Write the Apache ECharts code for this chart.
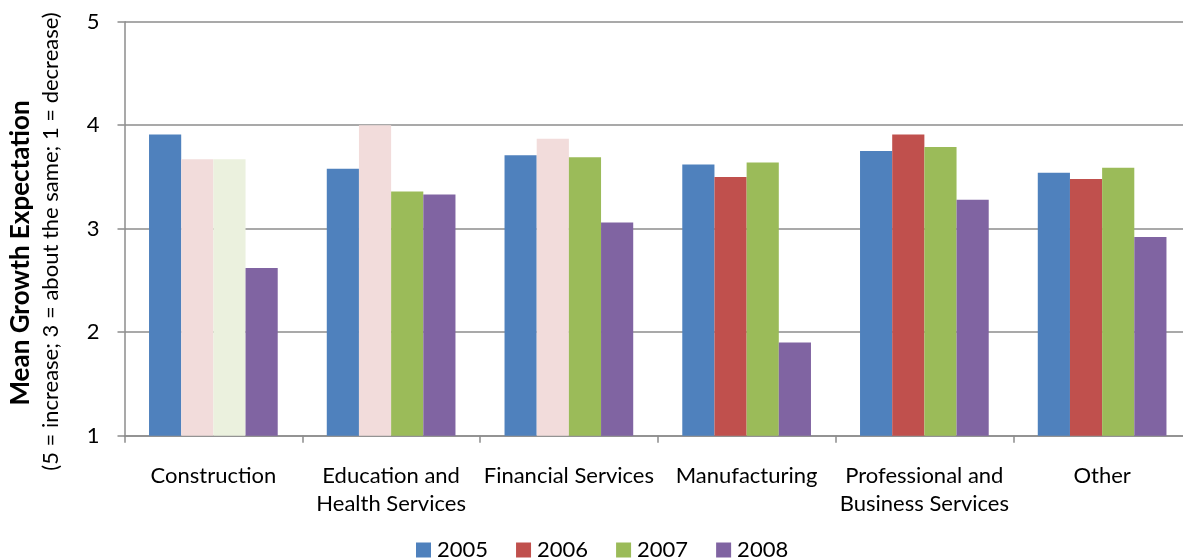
<!DOCTYPE html>
<html>
<head>
<meta charset="utf-8">
<script src="https://cdn.jsdelivr.net/npm/echarts@6/dist/echarts.min.js"></script>
<style>
  html, body { margin: 0; padding: 0; background: #fff; overflow: hidden; }
  /* the plot runs a few pixels past the right edge of the page */
  #chart { width: 1191px; height: 559px; }
</style>
</head>
<body>
<div id="chart"></div>
<script>
// Industry sectors on the category axis
const categories = [
  'Construction',
  'Education and\nHealth Services',
  'Financial Services',
  'Manufacturing',
  'Professional and\nBusiness Services',
  'Other'
];

// Survey years
const years = ['2005', '2006', '2007', '2008'];

// Mean growth expectation by sector, one array per year
const values2005 = [3.91, 3.58, 3.71, 3.62, 3.75, 3.54];
const values2006 = [3.67, 4.00, 3.87, 3.50, 3.91, 3.48];
const values2007 = [3.67, 3.36, 3.69, 3.64, 3.79, 3.59];
const values2008 = [2.62, 3.33, 3.06, 1.90, 3.28, 2.92];

// Value-axis ticks
const yTicks = [1, 2, 3, 4, 5];

// Bars shown in a pale tint: [category index, year index]
const paleBars = [[0, 1], [0, 2], [1, 1], [2, 1]];

const seriesValues = [values2005, values2006, values2007, values2008];
const colors = ['#4F81BD', '#C0504D', '#9BBB59', '#8064A2'];
const paleColors = ['#DCE6F2', '#F2DCDB', '#EBF1DE', '#E6E0EC'];

const FONT = 'Lato, "Open Sans", sans-serif';
const gridColor = '#8C8C8C';

const chart = echarts.init(document.getElementById('chart'), null, { renderer: 'canvas' });

const series = years.map((y, si) => ({
  name: y,
  type: 'bar',
  barGap: '0%',
  barCategoryGap: '27.6%',
  itemStyle: { color: colors[si] },
  data: seriesValues[si].map((v, ci) => {
    const pale = paleBars.some(p => p[0] === ci && p[1] === si);
    return pale ? { value: v, itemStyle: { color: paleColors[si] } } : v;
  })
}));

chart.setOption({
  backgroundColor: '#fff',
  animation: false,
  textStyle: { fontFamily: FONT },
  grid: { left: 124.5, top: 21.7, right: 0, height: 414, containLabel: false },
  xAxis: {
    type: 'category',
    data: categories,
    axisLine: { show: true, lineStyle: { color: gridColor, width: 1.5 } },
    axisTick: { show: true, length: 7, lineStyle: { color: gridColor, width: 1.5 } },
    axisLabel: {
      color: '#000', fontSize: 22, fontFamily: FONT, lineHeight: 28,
      margin: 26, interval: 0
    },
    splitLine: { show: false }
  },
  yAxis: {
    type: 'value',
    min: yTicks[0],
    max: yTicks[yTicks.length - 1],
    interval: 1,
    axisLine: { show: true, lineStyle: { color: gridColor, width: 1.5 } },
    axisTick: { show: true, length: 7, lineStyle: { color: gridColor, width: 1.5 } },
    axisLabel: { color: '#000', fontSize: 22, fontFamily: FONT, margin: 25 },
    splitLine: { show: true, lineStyle: { color: gridColor, width: 1.5 } }
  },
  legend: {
    data: years,
    left: 416,
    top: 539,
    padding: 0,
    itemWidth: 15,
    itemHeight: 15,
    itemGap: 28,
    icon: 'rect',
    textStyle: { color: '#000', fontSize: 22, fontFamily: FONT, lineHeight: 22, padding: [0, 0, 0, 1] }
  },
  graphic: [
    {
      type: 'text',
      rotation: Math.PI / 2,
      x: 21, y: 253,
      style: {
        text: 'Mean Growth Expectation',
        font: 'bold 26px ' + FONT,
        fill: '#000',
        align: 'center',
        verticalAlign: 'middle'
      }
    },
    {
      type: 'text',
      rotation: Math.PI / 2,
      x: 51, y: 241.5,
      style: {
        text: '(5 = increase; 3 = about the same; 1 = decrease)',
        font: '22px ' + FONT,
        fill: '#000',
        align: 'center',
        verticalAlign: 'middle'
      }
    }
  ],
  series: series
});
</script>
</body>
</html>
